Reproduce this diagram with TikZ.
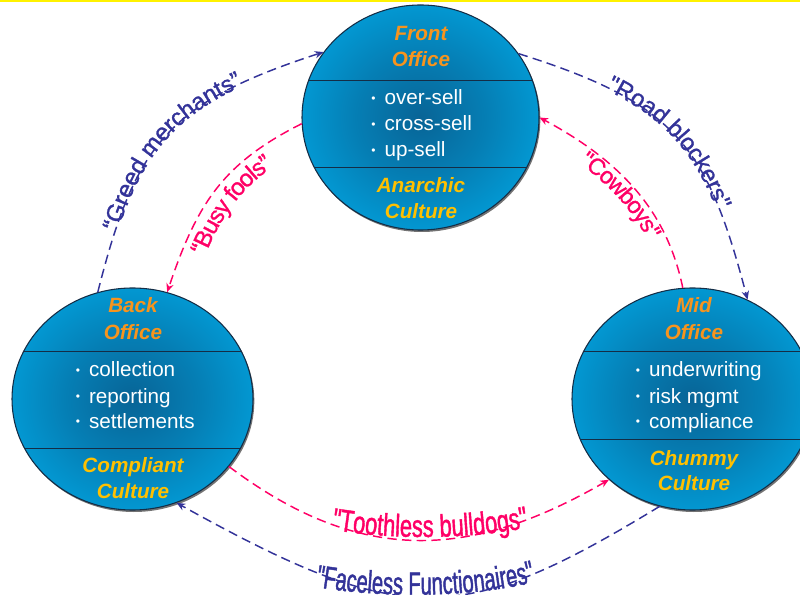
\documentclass[tikz,border=0pt]{standalone}
\usepackage{fontspec}
\setmainfont{Liberation Sans}
\newfontfamily\labfont[FakeBold=1.1]{Liberation Sans}
\newfontfamily\narrowfont[FakeStretch=0.7,FakeBold=1.3]{Liberation Sans}
\newfontfamily\narrowerfont[FakeStretch=0.63,FakeBold=1.3]{Liberation Sans}
\usetikzlibrary{shapes.geometric,arrows.meta,decorations.text,shadows}
\definecolor{navyc}{RGB}{51,51,153}
\definecolor{pinkc}{RGB}{255,0,102}
\definecolor{titlec}{RGB}{247,148,29}
\definecolor{culturec}{RGB}{255,192,0}
\definecolor{discin}{RGB}{8,100,150}
\definecolor{discout}{RGB}{0,176,238}
\definecolor{rimc}{RGB}{20,45,70}
\pgfdeclareradialshading{discshade}{\pgfpoint{0bp}{0bp}}{color(0bp)=(discin); color(14bp)=(discin!65!discout); color(36bp)=(discout); color(50bp)=(discout)}
\newcommand\bul{\makebox[10pt][l]{\fontsize{9}{9}\selectfont\raisebox{2pt}{•}}}
\newcommand\glab{\labfont\fontsize{18}{18}\selectfont\color{navyc}}
\newcommand\plab{\labfont\fontsize{18}{18}\selectfont\color{pinkc}}
\newcommand\clab{\labfont\fontsize{17.5}{17.5}\selectfont\color{pinkc}}
\newcommand\tlab{\narrowfont\fontsize{23.5}{23.5}\selectfont\color{pinkc}}
\newcommand\flab{\narrowerfont\fontsize{24}{24}\selectfont\color{navyc}}
\begin{document}
\begin{tikzpicture}[x=0.75pt,y=0.75pt,
  disc/.style={ellipse, draw=rimc, line width=0.8pt, shading=discshade, inner sep=0pt,
    drop shadow={shadow xshift=1pt, shadow yshift=-1.5pt, opacity=0.55, fill=black}},
  bigdisc/.style={disc, minimum width=180.75pt, minimum height=166.5pt},
  divider/.style={draw=rimc, line width=0.6pt},
  title/.style={inner sep=0pt, anchor=base, text=titlec, font=\bfseries\itshape\fontsize{15.5}{19.5}\selectfont},
  culture/.style={title, text=culturec},
  item/.style={inner sep=0pt, anchor=base west, text=white, font=\fontsize{15.5}{19.5}\selectfont},
  conn/.style={dash pattern=on 7pt off 4pt, line width=1.1pt, -{Stealth[length=6.5pt,width=5.5pt]}},
  navyarrow/.style={conn, draw=navyc},
  pinkarrow/.style={conn, draw=pinkc},
  alongtext/.style={decorate, decoration={text along path, text={#1}, text align=center}}
]
\useasboundingbox (0,0) rectangle (800,-595);
\clip (0,0) rectangle (800,-595);
\fill[white] (0,0) rectangle (800,-595);
\fill[yellow] (0,0) rectangle (800,-1.6);

% discs
\node[disc, minimum width=177.75pt, minimum height=168.75pt] (front) at (420.5,-117.5) {};
\node[bigdisc] (back) at (132.5,-399) {};
\node[bigdisc] (mid) at (692.5,-399) {};

% dividers
\draw[divider] (309,-80) -- (532,-80);
\draw[divider] (314,-167) -- (527,-167);
\draw[divider] (24,-351) -- (241,-351);
\draw[divider] (24.5,-448) -- (240.5,-448);
\draw[divider] (584,-351) -- (801,-351);
\draw[divider] (580,-439) -- (805,-439);

% front texts
\node[title] (ft1) at (421,-41) {Front};
\node[title] (ft2) at (421,-67) {Office};
\node[item] (fi1) at (371,-105) {\bul over-sell};
\node[item] (fi2) at (371,-131) {\bul cross-sell};
\node[item] (fi3) at (371,-157) {\bul up-sell};
\node[culture] (fc1) at (421,-193) {Anarchic};
\node[culture] (fc2) at (421,-219) {Culture};

% back texts
\node[title] (bt1) at (133,-313) {Back};
\node[title] (bt2) at (133,-339.5) {Office};
\node[item] (bi1) at (75.5,-377) {\bul collection};
\node[item] (bi2) at (75.5,-403) {\bul reporting};
\node[item] (bi3) at (75.5,-428.5) {\bul settlements};
\node[culture] (bc1) at (133,-472.5) {Compliant};
\node[culture] (bc2) at (133,-498) {Culture};

% mid texts
\node[title] (mt1) at (694,-313) {Mid};
\node[title] (mt2) at (694,-339.5) {Office};
\node[item] (mi1) at (635.5,-377) {\bul underwriting};
\node[item] (mi2) at (635.5,-403) {\bul risk mgmt};
\node[item] (mi3) at (635.5,-428.5) {\bul compliance};
\node[culture] (mc1) at (694,-465) {Chummy};
\node[culture] (mc2) at (694,-490.5) {Culture};

% Greed merchants
\draw[navyarrow] (back.108) .. controls (135,-145) and (167,-103) .. (front.146);
\path[alongtext={|\glab|“Greed merchants”}, decoration={raise=-2pt, text align={center, right indent=18pt}}]
  (back.108) .. controls (135,-145) and (167,-103) .. (front.146);

% Busy fools
\draw[pinkarrow] (front.183) .. controls (223.6,-163) and (197.4,-202.4) .. (back.72);
\path[alongtext={|\plab|“Busy fools”}, decoration={raise=-17pt}]
  (back.72) .. controls (197.4,-202.4) and (223.6,-163) .. (front.183);

% Road blockers
\draw[navyarrow] (front.33) .. controls (675,-103) and (707,-145) .. (mid.61);
\path[alongtext={|\glab|"Road blockers"}, decoration={raise=-2pt}]
  (front.33) .. controls (675,-103) and (707,-145) .. (mid.61);

% Cowboys
\draw[pinkarrow] (mid.95) .. controls (667.3,-213.8) and (624.4,-163.1) .. (front.0);
\path[alongtext={|\clab|"Cowboys"}, decoration={raise=-13.5pt}]
  (front.0) .. controls (624.4,-163.1) and (667.3,-213.8) .. (mid.95);

% Toothless bulldogs
\draw[pinkarrow] (back.325) .. controls (360,-565) and (470,-560) .. (mid.224);
\coordinate (tbl) at (328,-529);
\coordinate (tbr) at (532,-527);
\path[alongtext={|\tlab|"Toothless bulldogs"}]
  (tbl) .. controls (390,-540) and (465,-540) .. (tbr);

% Faceless Functionaires
\draw[navyarrow] (mid.253) .. controls (460,-628) and (402,-628) .. (back.293);
\coordinate (ffl) at (316,-587);
\coordinate (ffr) at (535,-582);
\path[alongtext={|\flab|"Faceless Functionaires"}]
  (ffl) .. controls (380,-598) and (470,-598) .. (ffr);
\end{tikzpicture}
\end{document}
